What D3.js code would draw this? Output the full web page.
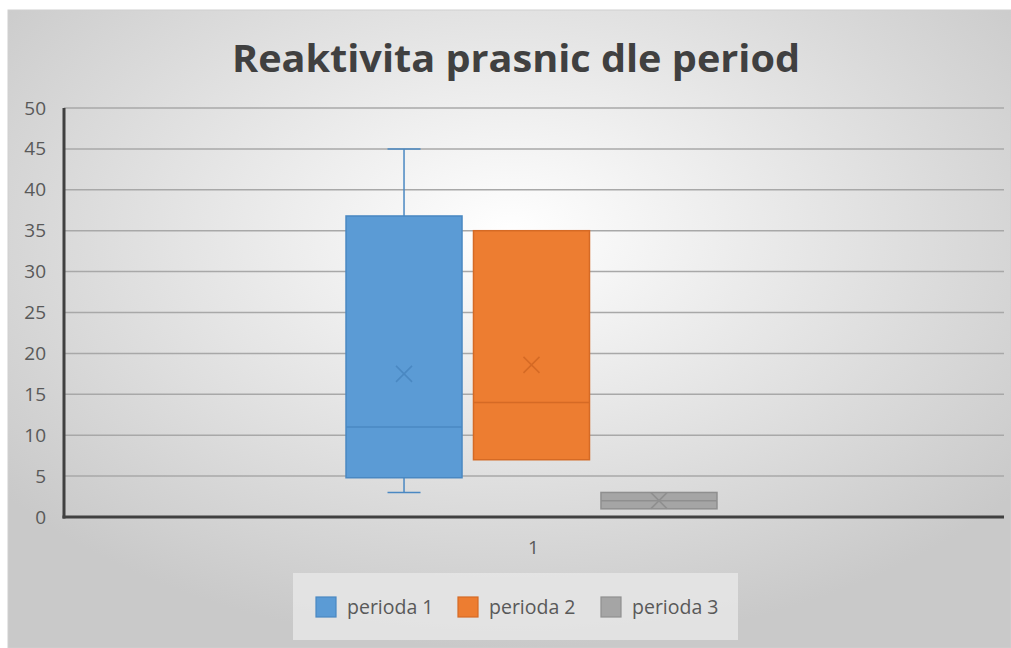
<!DOCTYPE html>
<html><head><meta charset="utf-8">
<script src="https://cdn.jsdelivr.net/npm/d3@7"></script>
<style>body{margin:0;background:#fff}svg{display:block}</style>
</head><body>
<script>
const categories = ["1"];
const seriesNames = ["perioda 1", "perioda 2", "perioda 3"];
const minVals    = [3, 7, 1];
const q1Vals     = [4.8, 7, 1];
const medianVals = [11, 14, 2];
const q3Vals     = [36.8, 35, 3];
const maxVals    = [45, 35, 3];
const meanVals   = [17.5, 18.6, 2];
const yTicks = [0,5,10,15,20,25,30,35,40,45,50];
const fills   = ["#5b9bd5", "#ed7d31", "#a5a5a5"];
const strokes = ["#4a88c2", "#d56a25", "#8f8f8f"];

const W = 1011, H = 648;
const svg = d3.select("body").append("svg").attr("width", W).attr("height", H);
const defs = svg.append("defs");
const rg = defs.append("radialGradient").attr("id","bg")
  .attr("cx","50%").attr("cy","35%").attr("r","65%");
rg.append("stop").attr("offset","0%").attr("stop-color","#ffffff");
rg.append("stop").attr("offset","100%").attr("stop-color","#c9c9c9");

svg.append("rect").attr("x",8).attr("y",10).attr("width",W-8).attr("height",H-10)
  .attr("fill","url(#bg)").attr("stroke","#cfcfcf").attr("stroke-width",1);

svg.append("text").attr("x",516).attr("y",72).attr("text-anchor","middle")
  .attr("font-family","'Open Sans', sans-serif").attr("font-weight","bold")
  .attr("font-size",38).attr("fill","#404040")
  .attr("textLength",568).attr("lengthAdjust","spacingAndGlyphs")
  .text("Reaktivita prasnic dle period");

const pLeft = 64, pRight = 1004, pTop = 108, pBottom = 517;
const y = d3.scaleLinear().domain([0,50]).range([pBottom, pTop]);
const x0 = d3.scaleBand().domain(categories).range([pLeft, pRight]).paddingInner(0).paddingOuter(0.767).align(0.4956);
const x1 = d3.scaleBand().domain(seriesNames).range([0, x0.bandwidth()]).paddingInner(0.09).paddingOuter(0);

// gridlines
svg.append("g").selectAll("line").data(yTicks.filter(d=>d>0)).join("line")
  .attr("x1", pLeft).attr("x2", pRight).attr("y1", d=>y(d)).attr("y2", d=>y(d))
  .attr("stroke","#a8a8a8").attr("stroke-width",1.5);

// y axis labels
const yAxis = d3.axisLeft(y).tickValues(yTicks).tickSize(0).tickPadding(18);
const gy = svg.append("g").attr("transform",`translate(${pLeft},0)`).call(yAxis);
gy.select(".domain").remove();
gy.selectAll("text").attr("font-family","'Open Sans', sans-serif").attr("font-size",19)
  .attr("fill","#595959");

// x axis label
const xAxis = d3.axisBottom(x0).tickSize(0).tickPadding(24);
const gx = svg.append("g").attr("transform",`translate(0,${pBottom})`).call(xAxis);
gx.select(".domain").remove();
gx.selectAll("text").attr("font-family","'Open Sans', sans-serif").attr("font-size",19)
  .attr("fill","#595959").attr("dx",2);

// boxes
const data = seriesNames.map((s,i)=>({s,i,min:minVals[i],q1:q1Vals[i],med:medianVals[i],q3:q3Vals[i],max:maxVals[i],mean:meanVals[i]}));
const g = svg.append("g").attr("transform",`translate(${x0(categories[0])},0)`);
data.forEach(d=>{
  const bx = x1(d.s), bw = x1.bandwidth(), cx = bx + bw/2;
  const col = strokes[d.i];
  const capW = 33;
  if (d.max > d.q3) {
    g.append("line").attr("x1",cx).attr("x2",cx).attr("y1",y(d.q3)).attr("y2",y(d.max)).attr("stroke",col).attr("stroke-width",1.5);
    g.append("line").attr("x1",cx-capW/2).attr("x2",cx+capW/2).attr("y1",y(d.max)).attr("y2",y(d.max)).attr("stroke",col).attr("stroke-width",1.5);
  }
  if (d.min < d.q1) {
    g.append("line").attr("x1",cx).attr("x2",cx).attr("y1",y(d.q1)).attr("y2",y(d.min)).attr("stroke",col).attr("stroke-width",1.5);
    g.append("line").attr("x1",cx-capW/2).attr("x2",cx+capW/2).attr("y1",y(d.min)).attr("y2",y(d.min)).attr("stroke",col).attr("stroke-width",1.5);
  }
  g.append("rect").attr("x",bx).attr("y",y(d.q3)).attr("width",bw).attr("height",y(d.q1)-y(d.q3))
    .attr("fill",fills[d.i]).attr("stroke",col).attr("stroke-width",1.5);
  g.append("line").attr("x1",bx).attr("x2",bx+bw).attr("y1",y(d.med)).attr("y2",y(d.med)).attr("stroke",col).attr("stroke-width",1.5);
  const m = 8, my = y(d.mean);
  g.append("path").attr("d",`M${cx-m},${my-m}L${cx+m},${my+m}M${cx-m},${my+m}L${cx+m},${my-m}`)
    .attr("stroke",col).attr("stroke-width",1.5).attr("fill","none");
});

// axis lines
svg.append("line").attr("x1",pLeft).attr("x2",pLeft).attr("y1",pTop).attr("y2",pBottom+1.5).attr("stroke","#404040").attr("stroke-width",3);
svg.append("line").attr("x1",pLeft-1.5).attr("x2",pRight).attr("y1",pBottom).attr("y2",pBottom).attr("stroke","#404040").attr("stroke-width",3);

// legend
svg.append("rect").attr("x",293).attr("y",573).attr("width",445).attr("height",67).attr("fill","#e6e6e6").attr("opacity",0.85);
const legX = [316, 458, 601];
seriesNames.forEach((s,i)=>{
  svg.append("rect").attr("x",legX[i]).attr("y",597).attr("width",20).attr("height",20)
    .attr("fill",fills[i]).attr("stroke",strokes[i]).attr("stroke-width",1.2);
  svg.append("text").attr("x",legX[i]+31).attr("y",614)
    .attr("font-family","'Open Sans', sans-serif").attr("font-size",19.5).attr("fill","#595959").text(s);
});
</script>
</body></html>
